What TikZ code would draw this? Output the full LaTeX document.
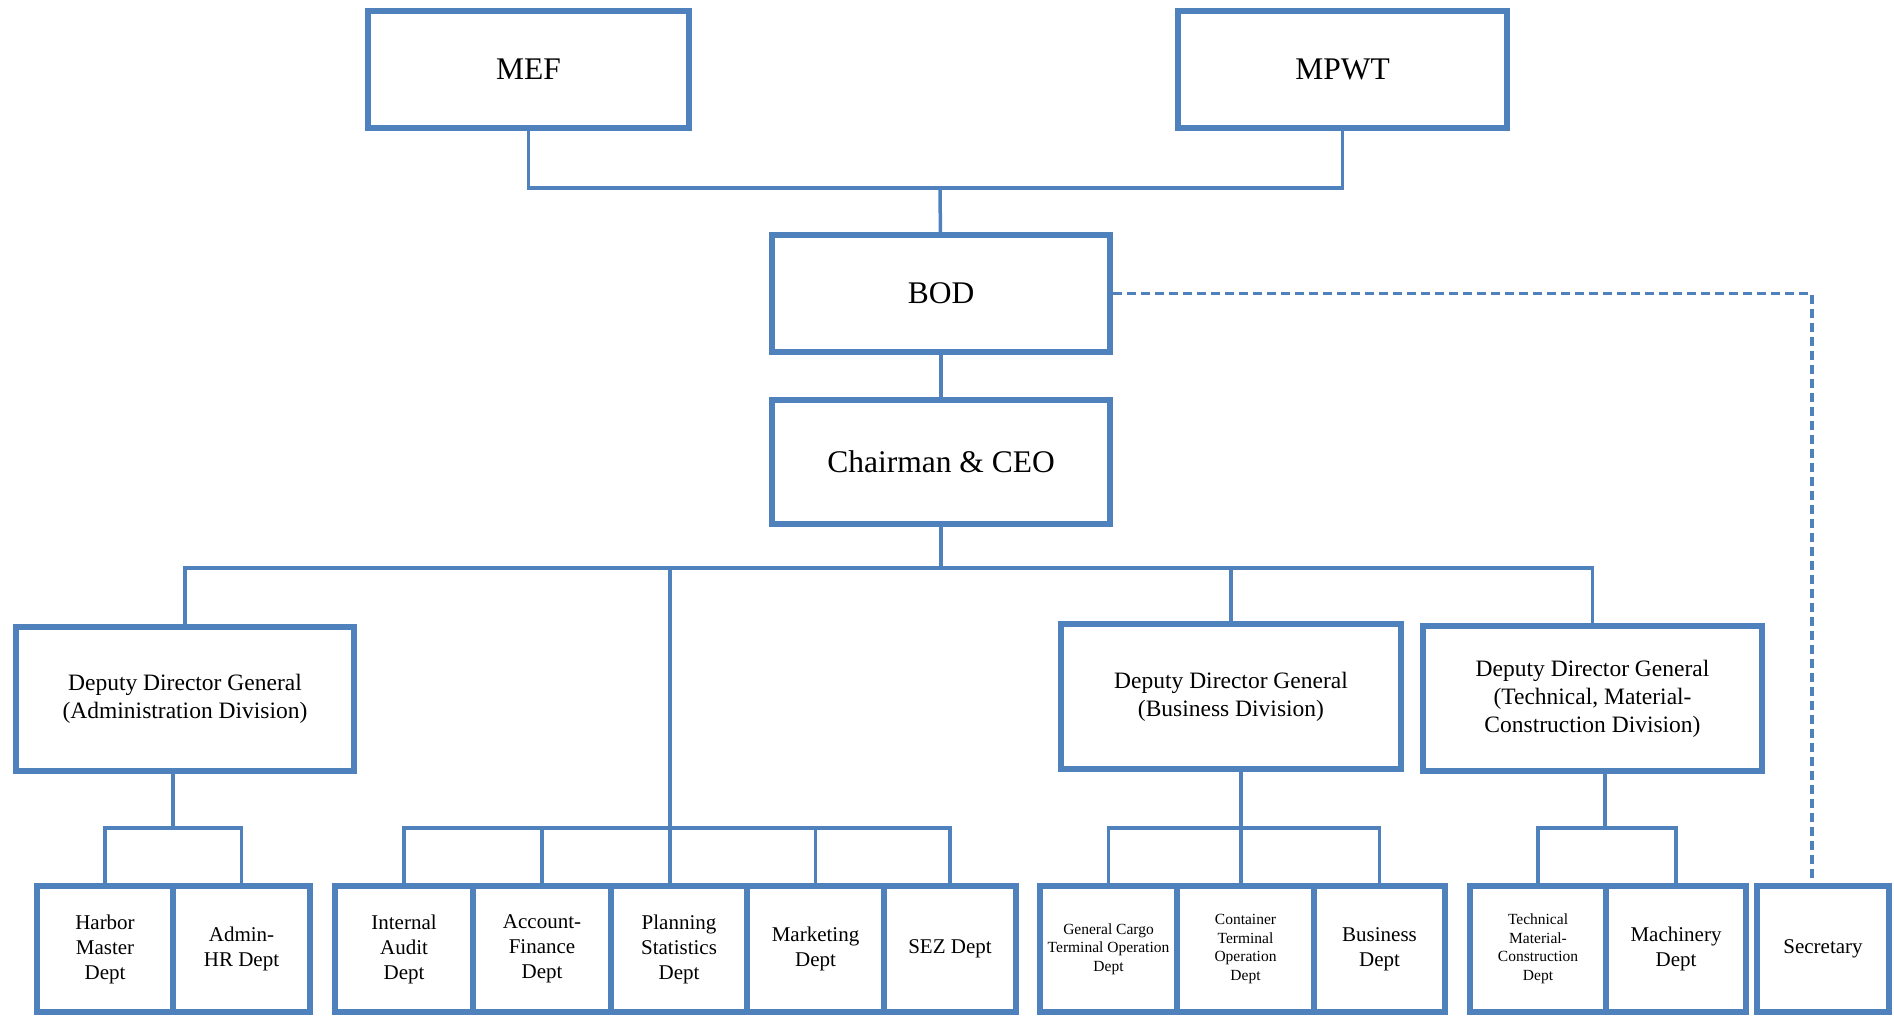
\documentclass[tikz,border=0pt]{standalone}
\usepackage{fontspec}
\setmainfont{Liberation Serif}
\definecolor{orgblue}{RGB}{79,129,189}
\begin{document}
\begin{tikzpicture}[x=1pt,y=-1pt,
  box/.style={draw=orgblue,line width=6pt,inner sep=0pt,align=center},
  dept/.style={box,minimum height=126pt},
  link/.style={draw=orgblue,line width=3.5pt},
  dotlink/.style={draw=orgblue,line width=3.5pt,dash pattern=on 9pt off 5pt},
  bigtext/.style={font=\fontsize{31.5}{38}\selectfont},
  midtext/.style={font=\fontsize{23.5}{28}\selectfont},
  dtext/.style={font=\fontsize{21}{25}\selectfont},
  stext/.style={font=\fontsize{15.5}{18.5}\selectfont}]
  \useasboundingbox (0,0) rectangle (1894,1015);
  % top
  \node[box,bigtext,minimum width=321pt,minimum height=117pt] (mef) at (528.5,69.5) {MEF};
  \node[box,bigtext,minimum width=329pt,minimum height=117pt] (mpwt) at (1342.5,69.5) {MPWT};
  \node[box,bigtext,minimum width=338pt,minimum height=117pt] (bod) at (941,293.5) {BOD};
  \node[box,bigtext,minimum width=338pt,minimum height=124pt] (ceo) at (941,462) {Chairman \& CEO};
  % deputies
  \node[box,midtext,minimum width=338pt,minimum height=144pt] (ddgadmin) at (185,699)
    {Deputy Director General\\(Administration Division)};
  \node[box,midtext,minimum width=340pt,minimum height=145pt] (ddgbiz) at (1231,696.5)
    {Deputy Director General\\(Business Division)};
  \node[box,midtext,minimum width=339pt,minimum height=145pt] (ddgtech) at (1592.5,698.5)
    {Deputy Director General\\(Technical, Material-\\Construction Division)};
  % departments
  \node[dept,dtext,minimum width=136pt] (harbor) at (105,949) {Harbor\\Master\\Dept};
  \node[dept,dtext,minimum width=137pt] (adminhr) at (241.5,949) {Admin-\\HR Dept};
  \node[dept,dtext,minimum width=138pt] (audit) at (404,949) {Internal\\Audit\\Dept};
  \node[dept,dtext,minimum width=138pt] (acct) at (542,949) {Account-\\Finance\\Dept};
  \node[dept,dtext,minimum width=136pt] (plan) at (679,949) {Planning\\Statistics\\Dept};
  \node[dept,dtext,minimum width=137pt] (mkt) at (815.5,949) {Marketing\\Dept};
  \node[dept,dtext,minimum width=132pt] (sez) at (950,949) {SEZ Dept};
  \node[dept,stext,minimum width=137pt] (gencargo) at (1108.5,949) {General Cargo\\Terminal Operation\\Dept};
  \node[dept,stext,minimum width=137pt] (container) at (1245.5,949) {Container\\Terminal\\Operation\\Dept};
  \node[dept,dtext,minimum width=131pt] (bizdept) at (1379.5,949) {Business\\Dept};
  \node[dept,stext,minimum width=136pt] (techmat) at (1538,949) {Technical\\Material-\\Construction\\Dept};
  \node[dept,dtext,minimum width=140pt] (machinery) at (1676,949) {Machinery\\Dept};
  \node[dept,dtext,minimum width=132pt] (sec) at (1823,949) {Secretary};
  % connectors
  \coordinate (topbus) at (940,188);
  \draw[link] (mef) |- (topbus) -| (mpwt);
  \draw[link] (topbus) -- (bod);
  \draw[link] (bod) -- (ceo);
  \coordinate (midbus) at (941,568);
  \draw[link] (ceo) -- (midbus);
  \draw[link] (ddgadmin) |- (midbus) -| (ddgtech);
  \draw[link] (ddgbiz) -- (ddgbiz |- midbus);
  \coordinate (abus) at (173,828);
  \draw[link] (ddgadmin.south -| abus) -- (abus);
  \draw[link] (harbor) |- (abus) -| (adminhr);
  \coordinate (bbus) at (670,828);
  \draw[link] (midbus -| bbus) -- (plan.north -| bbus);
  \draw[link] (audit) |- (bbus) -| (sez);
  \draw[link] (acct) -- (acct |- bbus);
  \draw[link] (mkt) -- (mkt |- bbus);
  \coordinate (cbus) at (1241,828);
  \draw[link] (ddgbiz.south -| cbus) -- (container.north -| cbus);
  \draw[link] (gencargo) |- (cbus) -| (bizdept);
  \coordinate (dbus) at (1605,828);
  \draw[link] (ddgtech.south -| dbus) -- (dbus);
  \draw[link] (techmat) |- (dbus) -| (machinery);
  \coordinate (secdrop) at (1812,828);
  \draw[dotlink] (bod) -| (sec.north -| secdrop);
\end{tikzpicture}
\end{document}
